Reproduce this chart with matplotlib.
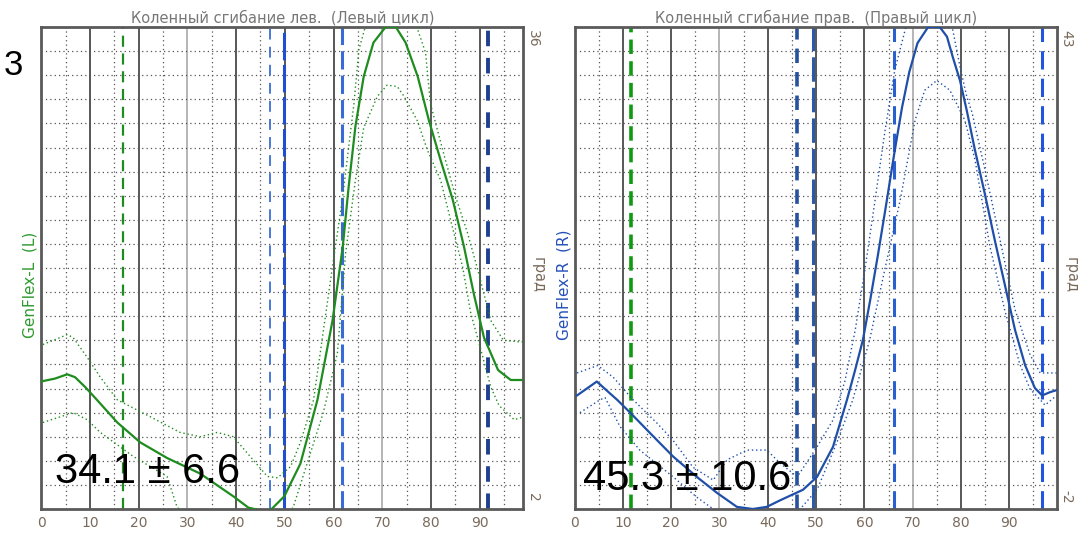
import numpy as np
import matplotlib
matplotlib.use("Agg")
import matplotlib.pyplot as plt

# ---- left panel (left knee) ----
left_title = "Коленный сгибание лев.  (Левый цикл)"
left_label = "GenFlex-L  (L)"
left_ylim = (2, 36)
left_x = [0, 2.8, 5.3, 6.9, 9, 11.4, 15.6, 20.3, 25.8, 32.6, 39.4, 42.5, 45, 47, 49.9, 53.2,
          56.7, 59.8, 61.9, 63.1, 64.5, 66.2, 68.2, 70.7, 72.8, 74.8, 77.3, 79.6, 82, 84.5,
          86.8, 88.8, 90.9, 93.8, 96.4, 99]
left_mean = [11.0, 11.2, 11.5, 11.3, 10.6, 9.7, 8.1, 6.7, 5.6, 4.5, 2.9, 2.1, 1.9, 1.9, 2.9, 5.2,
             9.7, 15.3, 20.5, 24.7, 29.0, 32.5, 34.9, 36.0, 36.0, 34.9, 32.5, 29.4, 26.6, 23.8,
             20.5, 17.2, 14.1, 11.8, 11.1, 11.1]
left_up_x = [0.3, 5.3, 6.5, 9.4, 12.1, 15.6, 22.4, 28.5, 32.6, 36.1, 39.4, 42.9, 46.4, 48.5, 51.2,
             53.2, 55.9, 59.7, 61.8, 64.2, 65.2, 68, 71.5, 75, 77.2, 78.9, 79.9, 82.6, 85.1, 87.5,
             89.6, 92.3, 94.9, 97.9, 99]
left_up = [13.6, 14.3, 14.1, 12.7, 11.3, 9.7, 8.5, 7.4, 7.1, 7.4, 7.1, 5.7, 4.3, 4.2, 5.0,
           6.7, 9.7, 18.9, 23.8, 30.6, 34.4, 37.8, 38.6, 38.0, 35.9, 34.2, 30.6, 27.1, 24.0, 21.5,
           18.9, 15.3, 13.9, 13.8, 13.8]
left_lo_x = [0.3, 6.5, 9.4, 12.1, 18.9, 25.8, 27.9, 35, 45, 51.7, 57.9, 60.8, 62.5, 64.5, 66.2,
             69, 71, 73.1, 74.5, 77.2, 79.3, 82, 84.4, 86.5, 88.2, 89.9, 92.3, 94, 97.1, 98.1, 99]
left_lo = [8.1, 8.8, 8.3, 7.4, 5.7, 4.3, 2.1, 0.5, 0.0, 2.1, 8.8, 13.0, 20.1, 25.2, 28.9,
           31.1, 31.9, 31.8, 31.1, 29.4, 27.3, 25.2, 21.9, 19.1, 15.8, 13.7, 10.6, 9.3, 8.3, 8.4, 8.5]
left_events = [16.8, 47.0, 49.9, 61.8, 91.7]
left_text = "34.1 ± 6.6"

# ---- right panel (right knee) ----
right_title = "Коленный сгибание прав.  (Правый цикл)"
right_label = "GenFlex-R  (R)"
right_ylim = (-2, 43)
right_x = [0.5, 4.6, 7.3, 8.8, 11.5, 15.6, 20.4, 25.3, 29.5, 33.6, 36.9, 39.8, 42.5, 47.3, 50.2,
           53.5, 56.4, 58.1, 59.7, 61.2, 62.8, 64.5, 66.3, 67.8, 69.3, 71.0, 73.2, 75.6, 77.1,
           78.3, 79.8, 81.2, 82.9, 85.0, 87.0, 89.1, 91.2, 93.3, 95.3, 96.8, 98.4, 99.8]
right_mean = [8.6, 9.9, 8.8, 8.2, 7.0, 5.1, 2.9, 1.0, -0.5, -1.8, -2.0, -1.8, -1.2, -0.2, 1.0,
              3.8, 8.2, 11.0, 13.8, 17.5, 21.7, 26.4, 31.5, 35.5, 38.8, 41.5, 43.0, 43.0, 42.1,
              40.2, 38.0, 35.2, 31.5, 27.3, 23.1, 18.9, 14.7, 11.4, 9.3, 8.6, 8.9, 9.1]
right_up_x = [0.5, 4.8, 8.0, 12.1, 17.1, 20.4, 24.5, 28.7, 31.6, 35.7, 39.8, 42.5, 46.1, 50.2,
              53.5, 56.0, 58.1, 60.1, 62.2, 64.3, 66.3, 69.0, 71.5, 74.5, 77.7, 79.8, 81.2, 82.3,
              85.0, 88.1, 91.2, 94.3, 96.4, 99.8]
right_up = [10.7, 11.4, 10.3, 8.2, 6.0, 4.4, 1.9, 0.7, 2.6, 3.5, 3.5, 2.3, 1.0, 3.8,
            6.3, 10.0, 14.7, 20.3, 26.8, 33.4, 39.0, 43.7, 46.5, 46.5, 44.1, 39.3, 36.5, 35.0,
            29.6, 23.1, 16.6, 12.4, 10.7, 10.7]
right_lo_x = [1.1, 5.3, 6.3, 9.4, 13.5, 20.4, 25.3, 28.7, 35, 42, 46.7, 50.2, 54.3, 57.6, 61.1,
              64.2, 67.4, 70.5, 72.5, 75.0, 77.7, 80.8, 82.9, 86.0, 89.1, 92.2, 94.3, 96.4, 97.4, 99.8]
right_lo = [7.0, 8.2, 8.4, 5.7, 3.5, 1.0, -0.9, -2.0, -4.0, -3.0, -2.0, -0.2, 4.2, 8.2, 13.8,
            20.3, 26.8, 34.3, 37.1, 38.0, 37.1, 34.3, 30.6, 22.5, 16.5, 11.5, 9.2, 8.2, 7.7, 8.6]
right_events = [11.7, 46.0, 49.4, 66.1, 96.8]
right_text = "45.3 ± 10.6"

xticks = [0, 10, 20, 30, 40, 50, 60, 70, 80, 90]

fig = plt.figure(figsize=(10.92, 5.33), dpi=100)
ax_l = fig.add_axes([41.4 / 1092, 24 / 533, 482 / 1092, 482 / 533])
ax_r = fig.add_axes([574.6 / 1092, 24 / 533, 482 / 1092, 482 / 533])

label_col = "#7a6a5c"


def draw_panel(ax, xmax, ylim, title, ylab, lab_col, xs, mean, ux, up, lx, lo,
               events, ev_styles, line_col, txt, txt_pos):
    ax.set_xlim(0, xmax)
    ax.set_ylim(*ylim)
    # grid
    for v in range(10, 100, 10):
        c = "#b0b0b0" if v in (30, 70) else "#4a4a4a"
        ax.axvline(v, color=c, lw=1.3, zorder=1)
    for v in range(5, 100, 10):
        ax.axvline(v, color="#555555", lw=0.9, ls=(0, (1, 2.5)), zorder=1)
    for v in np.linspace(ylim[0], ylim[1], 21)[1:-1]:
        ax.axhline(v, color="#555555", lw=0.9, ls=(0, (1, 2.5)), zorder=1)
    # event lines
    for e, (col, lw, dash) in zip(events, ev_styles):
        ax.axvline(e, color=col, lw=lw, ls=(0, dash), zorder=2)
    # curves
    ax.plot(ux, up, color=line_col, lw=1.0, ls=(0, (1, 2)), zorder=3)
    ax.plot(lx, lo, color=line_col, lw=1.0, ls=(0, (1, 2)), zorder=3)
    ax.plot(xs, mean, color=line_col, lw=1.6, zorder=4)
    for s in ax.spines.values():
        s.set_color("#5a5a5a")
        s.set_linewidth(2)
    ax.set_xticks(xticks)
    ax.set_xticklabels([str(t) for t in xticks])
    ax.tick_params(axis="x", length=0, pad=5, labelsize=10, labelcolor=label_col)
    ax.set_yticks([])
    ax.set_title(title, fontsize=10.5, color="#777777", pad=3)
    ax.text(-0.023, 0.465, ylab, transform=ax.transAxes, rotation=90,
            ha="center", va="center", fontsize=11, color=lab_col)
    ax.text(1.02, 0.975, f"{ylim[1]:g}", transform=ax.transAxes, rotation=-90,
            ha="center", va="center", fontsize=10, color=label_col)
    ax.text(1.02, 0.025, f"{ylim[0]:g}", transform=ax.transAxes, rotation=-90,
            ha="center", va="center", fontsize=10, color=label_col)
    ax.text(1.03, 0.485, "град", transform=ax.transAxes, rotation=-90,
            ha="center", va="center", fontsize=10.5, color=label_col)
    ax.text(txt_pos[0], txt_pos[1], txt, transform=ax.transAxes, ha="left", va="baseline",
            fontsize=30, family="Liberation Sans", color="black", zorder=6)


left_styles = [("#1e8c1e", 1.6, (5, 3)), ("#3a6fd8", 1.3, (6, 4)), ("#1f4fd0", 2.2, (9, 1.5)),
               ("#3a6ad6", 2.2, (6, 2)), ("#1f3f8f", 2.8, (4, 3))]
right_styles = [("#119911", 2.6, (4, 2)), ("#24529e", 2.6, (4, 2.5)), ("#2a5aa8", 2.2, (8, 2)),
                ("#2a5fd0", 2.2, (6, 3)), ("#2255dd", 2.2, (6, 3))]

draw_panel(ax_l, 99.0, left_ylim, left_title, left_label, "#2e9a2e",
           left_x, left_mean, left_up_x, left_up, left_lo_x, left_lo,
           left_events, left_styles, "#1e8c1e", left_text, (0.028, 0.054))
draw_panel(ax_r, 99.8, right_ylim, right_title, right_label, "#2450b8",
           right_x, right_mean, right_up_x, right_up, right_lo_x, right_lo,
           right_events, right_styles, "#1f4fa8", right_text, (0.017, 0.039))

fig.text(0.003, 0.859, "3", fontsize=25, family="Liberation Sans", ha="left", va="baseline")

fig.savefig("out.png", dpi=100)
